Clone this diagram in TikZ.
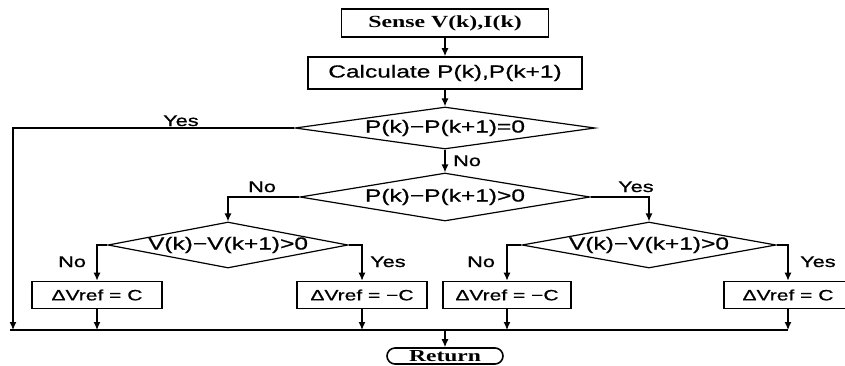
\documentclass[tikz,border=0pt]{standalone}
\usepackage{fontspec}
\setmainfont{Liberation Sans}[FakeStretch=1.4, FakeBold=0.8]
\newfontfamily\serifface{Liberation Serif}[FakeStretch=1.4]
\usetikzlibrary{arrows.meta, shapes.geometric}

\tikzset{
  block/.style={draw, line width=1.6pt, inner sep=0pt, minimum height=27pt,
    font=\fontsize{15}{17}\selectfont},
  decision/.style={diamond, draw, line width=1.2pt, inner sep=0pt,
    label={[font=\fontsize{17.5}{20}\selectfont]center:#1}},
  flow/.style={line width=1.3pt, ->},
  tag/.style={font=\fontsize{15.5}{18}\selectfont, inner sep=0pt, anchor=base west},
}

\begin{document}
\begin{tikzpicture}[x=1pt, y=-1pt, >={Latex[length=8pt,width=7pt]}]
  \useasboundingbox (0,0) rectangle (845,365);

  \node [block, minimum width=207pt, minimum height=28pt,
    font=\serifface\bfseries\fontsize{17}{19}\selectfont] (sense) at (445,23) {Sense V(k),I(k)};
  \node [block, minimum width=274pt, minimum height=32pt,
    font=\fontsize{17.5}{20}\selectfont] (calc) at (445,73) {Calculate P(k),P(k+1)};
  \node [decision={P(k)−P(k+1)=0}, minimum width=300pt, minimum height=42pt] (d1) at (445,128) {};
  \node [decision={P(k)−P(k+1)>0}, minimum width=290pt, minimum height=48pt] (d2) at (445,197) {};
  \node [decision={V(k)−V(k+1)>0}, minimum width=240pt, minimum height=46pt] (d3) at (228,245) {};
  \node [decision={V(k)−V(k+1)>0}, minimum width=254pt, minimum height=46pt] (d4) at (649,245) {};

  % outputs
  \node [block, minimum width=130pt] (b1) at (97,295) {ΔVref = C};
  \node [block, minimum width=130pt] (b2) at (362,295) {ΔVref = −C};
  \node [block, minimum width=128pt] (b3) at (507,295) {ΔVref = −C};
  \node [block, minimum width=128pt] (b4) at (788,295) {ΔVref = C};
  \node [draw, line width=1.6pt, rounded corners=8pt, inner sep=0pt, minimum width=116pt,
    minimum height=16pt, font=\serifface\bfseries\fontsize{16.8}{18}\selectfont] (ret) at (445,356) {Return};

  \coordinate (busw) at (10,330);
  \coordinate (yesend) at (13,330);

  \draw [flow] (sense) -- (calc);
  \draw [flow] (calc) -- (d1);
  \draw [flow] (d1) -- (d2);
  \draw [flow] (d1.west) -| (yesend);
  \draw [flow] (d2.west) -| (d3.north);
  \draw [flow] (d2.east) -| (d4.north);
  \draw [flow] (d3.west) -| (b1.north);
  \draw [flow] (d3.east) -| (b2.north);
  \draw [flow] (d4.west) -| (b3.north);
  \draw [flow] (d4.east) -| (b4.north);
  \foreach \b in {b1,b2,b3,b4}
    \draw [flow] (\b.south) -- (\b.south |- busw);
  \draw [line width=1.3pt] (busw) -- (busw -| b4.south);
  \draw [flow] (ret.north |- busw) -- (ret.north);

  % branch labels
  \node [tag] (yes1) at (163,126) {Yes};
  \node [tag] (no1) at (453,166) {No};
  \node [tag] (no2) at (248,192) {No};
  \node [tag] (yes2) at (618,192) {Yes};
  \node [tag] (no3) at (58,267) {No};
  \node [tag] (yes3) at (370,267) {Yes};
  \node [tag] (no4) at (467,267) {No};
  \node [tag] (yes4) at (800,267) {Yes};
\end{tikzpicture}
\end{document}
